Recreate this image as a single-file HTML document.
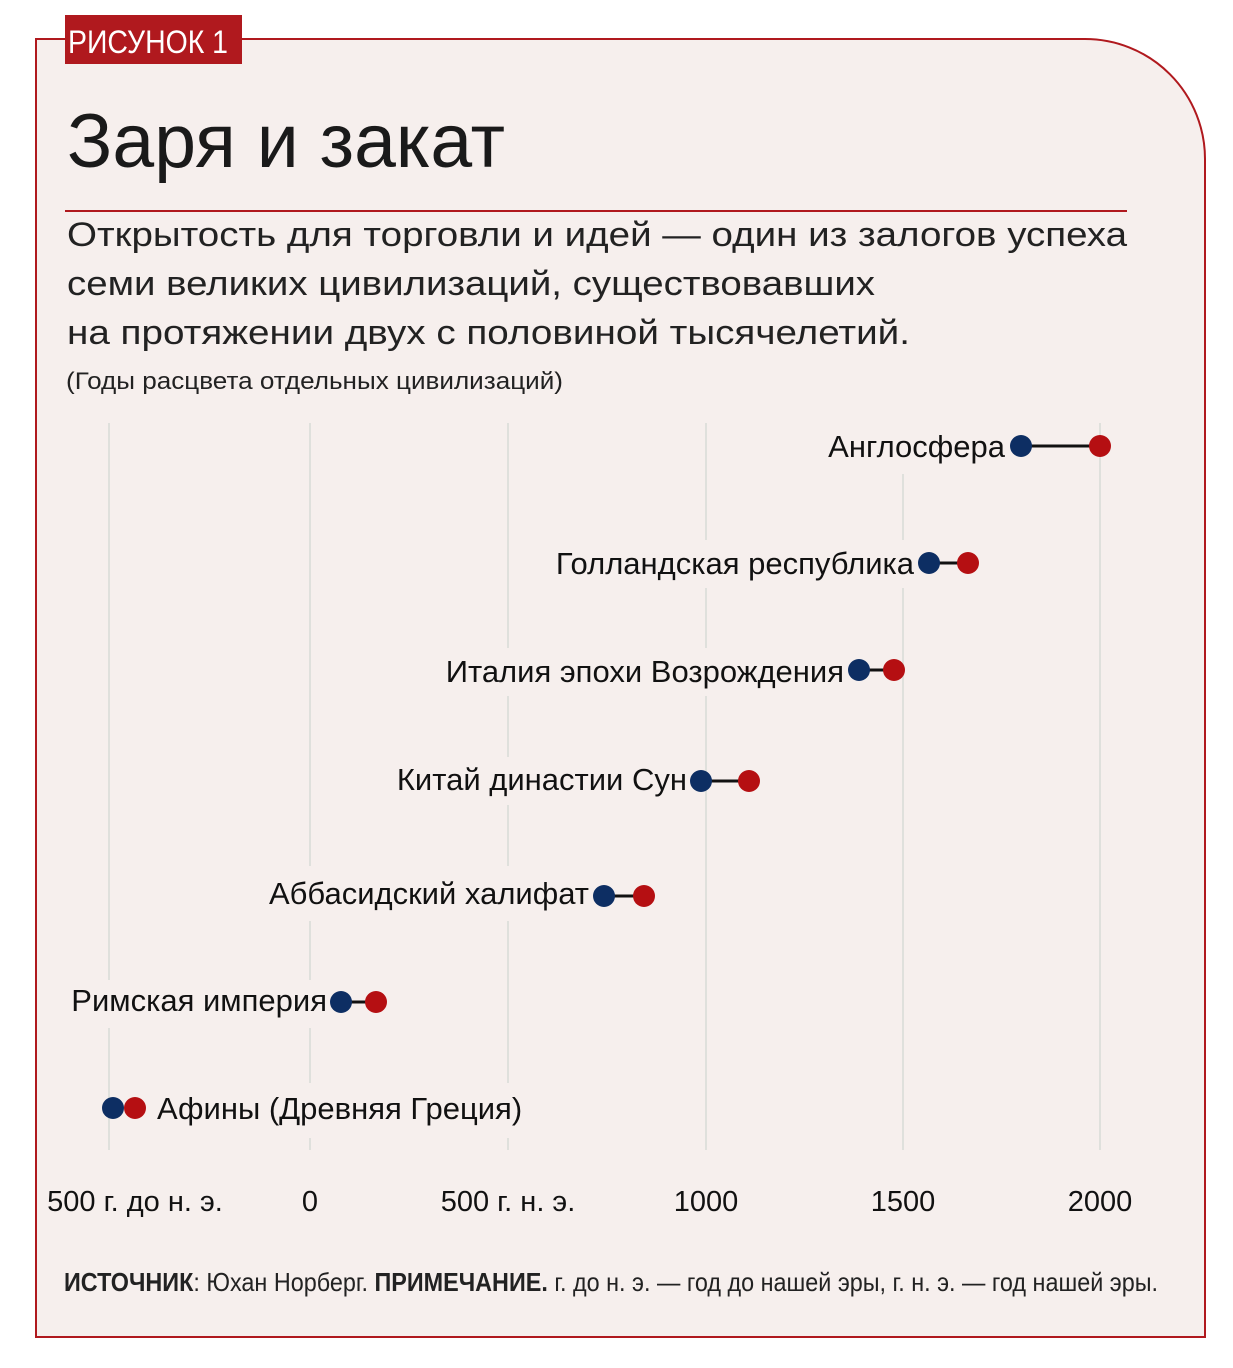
<!DOCTYPE html>
<html><head><meta charset="utf-8"><style>
html,body{margin:0;padding:0;background:#fff}
svg{display:block}
text{font-family:"Liberation Sans",sans-serif}
</style></head><body>
<svg width="1233" height="1368" viewBox="0 0 1233 1368" xmlns="http://www.w3.org/2000/svg">
<path d="M36 39 H1085 A120 120 0 0 1 1205 159 V1337 H36 Z" fill="#f6efed" stroke="#b0191e" stroke-width="2"/>
<rect x="65" y="15" width="177" height="49" fill="#b0191e"/>
<text x="68" y="53" font-size="32" fill="#fff" textLength="160" lengthAdjust="spacingAndGlyphs">РИСУНОК 1</text>
<text x="67" y="167" font-size="76" fill="#1a1a1a" textLength="438" lengthAdjust="spacingAndGlyphs">Заря и закат</text>
<line x1="65" y1="211" x2="1127" y2="211" stroke="#b0191e" stroke-width="2"/>
<g font-size="34" fill="#222">
<text x="67" y="246" textLength="1060" lengthAdjust="spacingAndGlyphs">Открытость для торговли и идей — один из залогов успеха</text>
<text x="67" y="295" textLength="808" lengthAdjust="spacingAndGlyphs">семи великих цивилизаций, существовавших</text>
<text x="67" y="344" textLength="843" lengthAdjust="spacingAndGlyphs">на протяжении двух с половиной тысячелетий.</text>
</g>
<text x="66" y="389" font-size="24" fill="#222" textLength="497" lengthAdjust="spacingAndGlyphs">(Годы расцвета отдельных цивилизаций)</text>
<g stroke="#dfe0dc" stroke-width="2">
<line x1="109" y1="423" x2="109" y2="1150"/><line x1="310" y1="423" x2="310" y2="1150"/>
<line x1="508" y1="423" x2="508" y2="1150"/><line x1="706" y1="423" x2="706" y2="1150"/>
<line x1="903" y1="423" x2="903" y2="1150"/><line x1="1100" y1="423" x2="1100" y2="1150"/>
</g>
<g fill="#f6efed">
<rect x="826" y="418" width="182" height="56"/>
<rect x="548" y="540" width="368" height="48"/>
<rect x="435" y="648" width="411" height="48"/>
<rect x="392" y="757" width="297" height="48"/>
<rect x="268" y="866" width="323" height="55"/>
<rect x="64" y="980" width="266" height="48"/>
<rect x="150" y="1083" width="375" height="55"/>
</g>
<g font-size="31" fill="#111">
<text x="1005" y="457" text-anchor="end">Англосфера</text>
<text x="914" y="574" text-anchor="end">Голландская республика</text>
<text x="844" y="682" text-anchor="end">Италия эпохи Возрождения</text>
<text x="687" y="790" text-anchor="end">Китай династии Сун</text>
<text x="589" y="904" text-anchor="end">Аббасидский халифат</text>
<text x="327" y="1011" text-anchor="end">Римская империя</text>
<text x="157" y="1119">Афины (Древняя Греция)</text>
</g>
<g stroke="#111" stroke-width="3">
<line x1="1021" y1="446" x2="1100" y2="446"/><line x1="929" y1="563" x2="968" y2="563"/>
<line x1="859" y1="670" x2="894" y2="670"/><line x1="701" y1="781" x2="749" y2="781"/>
<line x1="604" y1="896" x2="644" y2="896"/><line x1="341" y1="1002" x2="376" y2="1002"/>
</g>
<g fill="#b50f12">
<circle cx="1100" cy="446" r="11"/><circle cx="968" cy="563" r="11"/><circle cx="894" cy="670" r="11"/>
<circle cx="749" cy="781" r="11"/><circle cx="644" cy="896" r="11"/><circle cx="376" cy="1002" r="11"/><circle cx="135" cy="1108" r="11"/>
</g>
<g fill="#0d2e63">
<circle cx="1021" cy="446" r="11"/><circle cx="929" cy="563" r="11"/><circle cx="859" cy="670" r="11"/>
<circle cx="701" cy="781" r="11"/><circle cx="604" cy="896" r="11"/><circle cx="341" cy="1002" r="11"/><circle cx="113" cy="1108" r="11"/>
</g>
<g font-size="29" fill="#111" text-anchor="middle">
<text x="135" y="1211">500 г. до н. э.</text><text x="310" y="1211">0</text>
<text x="508" y="1211">500 г. н. э.</text><text x="706" y="1211">1000</text>
<text x="903" y="1211">1500</text><text x="1100" y="1211">2000</text>
</g>
<text x="64" y="1291" font-size="26" fill="#222" textLength="1094" lengthAdjust="spacingAndGlyphs"><tspan font-weight="bold">ИСТОЧНИК</tspan>: Юхан Норберг. <tspan font-weight="bold">ПРИМЕЧАНИЕ.</tspan> г. до н. э. — год до нашей эры, г. н. э. — год нашей эры.</text>
</svg>
</body></html>
